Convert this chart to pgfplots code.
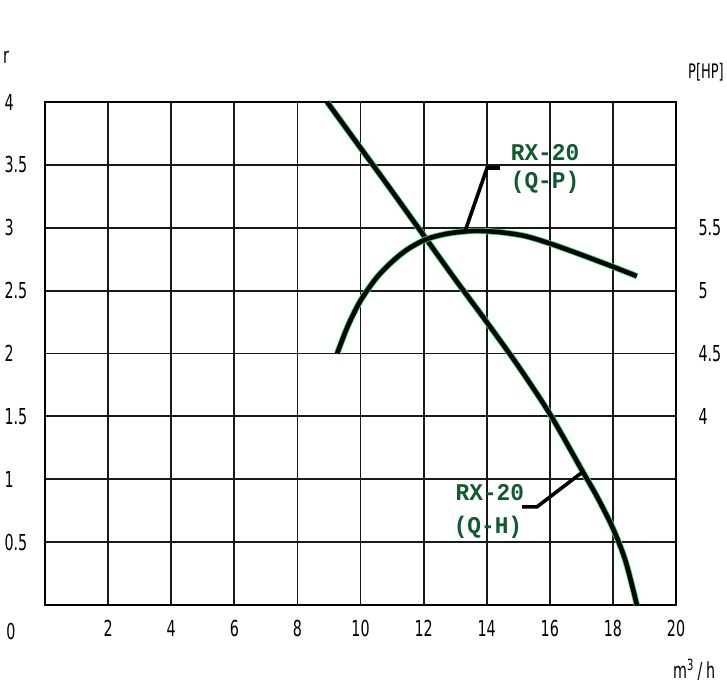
\documentclass[border=0pt]{standalone}
\usepackage{fontspec}
\usepackage{pgfplots}
\pgfplotsset{compat=1.18}
\newfontfamily\tickfont{DejaVu Sans}[FakeStretch=0.65]
\newfontfamily\labfont{Liberation Mono}[FakeStretch=0.95]
\definecolor{lblgreen}{RGB}{16,90,50}
\definecolor{halo}{RGB}{40,225,120}
\newcommand{\tf}{\tickfont\fontsize{22bp}{24bp}\selectfont}
\newcommand{\lf}{\labfont\bfseries\fontsize{24bp}{26bp}\selectfont}
\pgfplotstableread{
Q H
8.94 4.00
10.0 3.635
11.0 3.29
12.0 2.94
13.0 2.59
14.0 2.25
15.0 1.90
16.0 1.52
17.0 1.08
17.5 0.86
18.0 0.61
18.4 0.35
18.76 0.00
}\qh
\pgfplotstableread{
Q P
9.26 2.00
9.6 2.22
10.0 2.42
10.5 2.60
11.0 2.73
11.5 2.83
12.1 2.91
12.8 2.955
13.6 2.975
14.4 2.965
15.2 2.935
16.0 2.875
17.0 2.785
18.0 2.69
18.76 2.615
}\qp
\begin{document}
\begin{tikzpicture}[x=1bp,y=1bp]
\useasboundingbox (0,0) rectangle (727,696);
\begin{axis}[
  at={(45bp,91bp)}, anchor=south west, scale only axis,
  width=631bp, height=503bp,
  xmin=0, xmax=20, ymin=0, ymax=4,
  xtick={0,2,4,6,8,10,12,14,16,18,20},
  ytick={0,0.5,1,1.5,2,2.5,3,3.5,4},
  xticklabels={,2,4,6,8,10,12,14,16,18,20},
  yticklabels={,0.5,1,1.5,2,2.5,3,3.5,4},
  grid=major, major grid style={black!90, line width=1.8bp},
  axis line style={black, line width=2.4bp},
  major tick length=0pt,
  /pgf/number format/assume math mode=true,
  ticklabel style={font=\tf},
  xticklabel style={yshift=-12bp},
  yticklabel style={anchor=west, xshift=-44bp},
  clip=false,
]
\addplot[halo, line width=6.2bp, smooth, tension=0.5] table[x=Q,y=H] {\qh};
\addplot[black, line width=4.6bp, smooth, tension=0.5] table[x=Q,y=H] {\qh};
\addplot[halo, line width=6.2bp, smooth, tension=0.5] table[x=Q,y=P] {\qp};
\addplot[black, line width=4.6bp, smooth, tension=0.5] table[x=Q,y=P] {\qp};
% leaders
\addplot[black, line width=3.6bp] coordinates {(13.31,2.97) (14.01,3.475) (14.42,3.475)};
\addplot[black, line width=3.6bp] coordinates {(17.05,1.06) (15.59,0.78) (15.12,0.78)};
\node[font=\lf, text=lblgreen] at (axis cs:15.85,3.60) {RX-20};
\node[font=\lf, text=lblgreen] at (axis cs:15.85,3.36) {(Q-P)};
\node[font=\lf, text=lblgreen] at (axis cs:14.10,0.89) {RX-20};
\node[font=\lf, text=lblgreen] at (axis cs:14.04,0.62) {(Q-H)};
\end{axis}
\begin{axis}[
  at={(45bp,91bp)}, anchor=south west, scale only axis,
  width=631bp, height=503bp,
  xmin=0, xmax=20, ymin=2.5, ymax=6.5,
  axis y line*=right, hide x axis,
  axis line style={draw=none},
  ytick={4,4.5,5,5.5},
  yticklabels={4,4.5,5,5.5},
  major tick length=0pt,
  /pgf/number format/assume math mode=true,
  ticklabel style={font=\tf},
  yticklabel style={anchor=west, xshift=19bp},
]
\addplot[draw=none] coordinates {(0,3) (20,3)};
\end{axis}
\node[anchor=west, inner sep=0, font=\tf] at (3,639) {r};
\node[anchor=west, inner sep=0, font=\tickfont\fontsize{20bp}{22bp}\selectfont] at (688,624) {P[HP]};
\node[anchor=west, inner sep=0, font=\tf] at (673,26) {m\textsuperscript{3}\,/\,h};
\node[inner sep=0, font=\tf] at (11,65) {0};
\end{tikzpicture}
\end{document}
